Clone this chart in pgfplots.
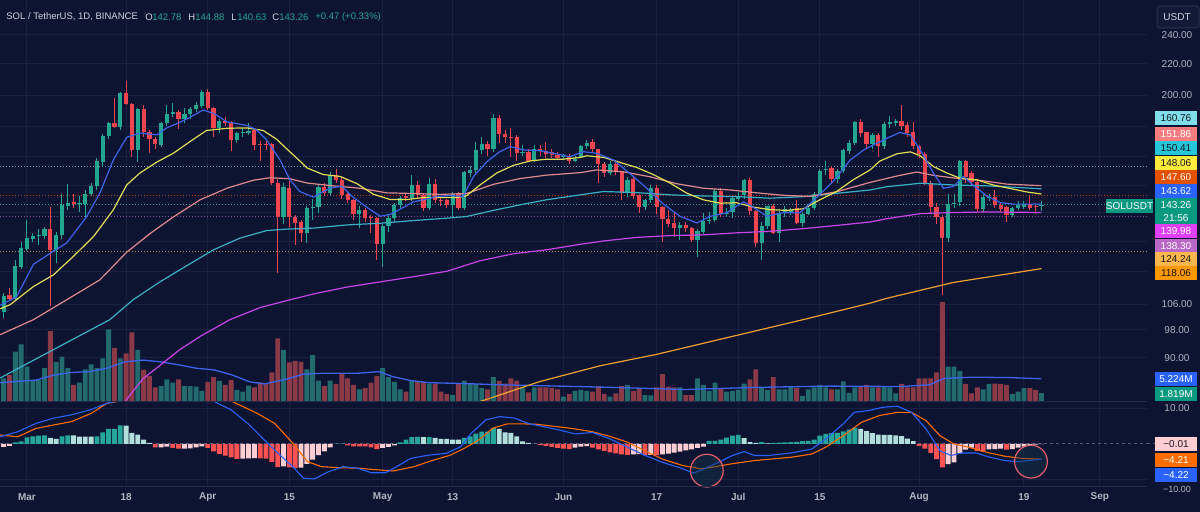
\documentclass[border=0pt]{standalone}
\usepackage{pgfplots}
\pgfplotsset{compat=1.18}
\usepackage{pgfplotstable}
\usepackage{fontspec}
\setmainfont{Liberation Sans}

\definecolor{bg}{HTML}{0C1432}
\definecolor{gridc}{HTML}{18213F}
\definecolor{sepc}{HTML}{222B4A}
\definecolor{lbl}{HTML}{B2B5BE}
\definecolor{hdr}{HTML}{D1D4DC}
\definecolor{dark}{HTML}{131722}
\definecolor{upc}{HTML}{22A68F}
\definecolor{dnc}{HTML}{F0444F}
\definecolor{volup}{HTML}{236A6D}
\definecolor{voldn}{HTML}{8A3946}
\definecolor{emablue}{HTML}{3D63EA}
\definecolor{emayel}{HTML}{E3DC55}
\definecolor{emasal}{HTML}{E08A8E}
\definecolor{emacy}{HTML}{3AAFC4}
\definecolor{emamag}{HTML}{C845E8}
\definecolor{emaor}{HTML}{F0A030}
\definecolor{hup}{HTML}{26A69A}
\definecolor{hupl}{HTML}{B2DFDB}
\definecolor{hdn}{HTML}{FF5252}
\definecolor{hdnl}{HTML}{FFCDD2}
\definecolor{macdc}{HTML}{2962FF}
\definecolor{sigc}{HTML}{FF6D00}
\definecolor{circ}{HTML}{E35D6A}
\definecolor{circf}{HTML}{16364C}
\definecolor{lab160}{HTML}{80DEEA}
\definecolor{lab151}{HTML}{F77C80}
\definecolor{lab150}{HTML}{26C6DA}
\definecolor{lab148}{HTML}{FFEB3B}
\definecolor{lab147}{HTML}{E65100}
\definecolor{lab143}{HTML}{2962FF}
\definecolor{labcur}{HTML}{089981}
\definecolor{lab139}{HTML}{E040FB}
\definecolor{lab138}{HTML}{BA68C8}
\definecolor{lab124}{HTML}{FFB74D}
\definecolor{lab118}{HTML}{FF9800}

\newcommand\fs{\fontsize{5}{6}\selectfont}
\newcommand\fh{\fontsize{4.75}{6}\selectfont}

% daily candles, day 0 = 1 March; volume in millions
\pgfplotstableread{
d o h l c v
-4 103.6 109.5 101.7 108.5 5.3
-3 109.0 111.4 107.0 107.5 6.1
-2 107.6 121.2 107.2 118.9 11.6
-1 118.8 128.0 118.0 125.6 13.3
0 125.4 136.9 124.5 129.4 8.1
1 129.0 131.5 128.0 130.2 4.7
2 130.2 133.0 127.0 130.8 4.9
3 130.5 134.0 129.0 133.2 7.7
4 133.2 142.4 105.3 125.0 16.4
5 125.0 132.0 120.0 130.8 9.2
6 130.8 148.3 129.0 143.2 10.4
7 142.8 152.6 141.0 144.2 7.7
8 144.5 148.0 142.0 143.5 3.8
9 143.5 147.0 140.0 144.2 4.3
10 143.5 149.9 138.1 148.0 7.4
11 148.0 153.0 147.0 151.8 8.6
12 151.6 165.3 150.0 163.6 7.7
13 163.3 177.5 161.0 176.6 10.0
14 176.6 184.5 175.0 183.5 16.8
15 183.5 198.0 180.7 181.6 12.5
16 181.6 202.0 180.0 201.4 10.0
17 201.4 208.8 194.0 194.5 11.2
18 194.5 195.0 165.8 169.3 16.1
19 169.3 192.5 163.4 191.7 12.0
20 191.7 194.0 176.3 179.0 7.3
21 179.0 180.0 167.6 175.0 5.9
22 175.0 176.0 170.0 172.3 3.2
23 172.0 184.0 171.0 183.5 3.5
24 183.5 194.0 182.0 189.0 5.1
25 189.0 195.0 187.0 190.0 4.3
26 190.0 191.0 180.3 185.8 5.1
27 185.8 192.2 183.9 189.0 3.5
28 188.8 193.0 186.0 191.5 3.5
29 191.5 195.8 190.0 194.0 3.4
30 193.6 203.0 192.0 201.8 2.4
31 201.8 203.5 191.0 192.1 4.5
32 192.0 193.0 176.3 180.7 5.6
33 180.7 186.0 178.0 184.6 4.7
34 184.6 187.0 182.0 183.5 3.8
35 183.5 185.0 168.5 174.5 4.9
36 174.5 179.0 173.0 178.0 2.6
37 178.0 181.0 176.0 178.9 2.2
38 178.0 183.7 177.0 179.4 3.6
39 180.0 181.0 169.3 172.0 3.2
40 172.5 174.0 163.7 172.0 4.4
41 172.3 174.0 169.0 171.8 4.1
42 172.2 173.0 152.0 153.0 6.7
43 153.0 155.0 116.5 138.1 14.7
44 138.1 153.0 135.0 151.2 12.0
45 151.0 154.0 134.0 138.1 9.1
46 138.1 139.0 126.8 135.8 9.4
47 136.2 137.0 128.1 131.5 9.2
48 131.5 143.0 127.5 141.8 7.4
49 141.8 146.0 137.0 142.4 10.8
50 142.4 152.0 139.8 151.2 4.8
51 151.2 153.0 147.0 148.6 3.5
52 148.6 158.4 147.0 156.8 4.8
53 156.8 160.0 153.0 154.6 4.0
54 154.6 156.0 146.0 147.6 6.3
55 148.0 149.0 144.0 145.2 5.3
56 145.2 146.0 137.0 139.4 3.8
57 139.4 143.0 133.5 141.1 2.7
58 141.1 142.0 136.0 137.6 3.0
59 138.0 139.0 131.5 137.5 4.3
60 137.6 138.0 121.2 127.4 5.9
61 127.4 135.0 118.8 134.2 7.7
62 134.2 139.0 132.0 137.6 5.6
63 137.6 144.0 136.0 143.2 4.5
64 143.2 147.0 142.0 146.2 2.7
65 147.0 148.0 145.0 146.2 2.2
66 146.2 156.8 145.0 152.3 4.7
67 152.3 154.0 146.0 147.6 4.5
68 147.6 148.0 140.5 142.0 4.5
69 142.0 155.3 141.0 152.6 4.1
70 152.6 155.0 144.0 145.6 4.0
71 145.6 147.0 143.0 145.2 2.2
72 145.3 146.0 142.0 143.3 1.6
73 143.3 149.0 138.1 148.1 1.4
74 148.1 149.0 141.0 141.8 4.1
75 141.8 159.0 141.0 158.4 4.8
76 158.0 161.0 156.0 159.3 4.1
77 159.3 173.5 158.0 169.3 4.0
78 169.3 176.0 167.0 172.3 3.0
79 172.3 174.0 166.0 169.6 2.7
80 169.6 189.0 168.0 186.4 5.6
81 186.4 188.5 173.0 177.7 4.7
82 177.7 180.0 173.0 176.3 4.1
83 176.3 180.7 165.8 176.0 5.3
84 176.0 177.0 163.7 167.7 4.8
85 167.5 172.0 166.0 168.2 3.2
86 168.2 170.0 163.0 163.7 2.0
87 163.7 172.0 163.0 169.6 3.2
88 169.6 172.0 166.0 168.5 3.2
89 168.5 173.5 165.0 167.0 3.2
90 168.0 170.0 165.0 166.9 3.0
91 166.9 168.0 164.0 165.2 2.7
92 165.7 167.0 164.0 166.0 1.0
93 166.4 167.0 162.3 163.7 1.6
94 163.7 166.0 163.0 164.6 2.4
95 165.8 172.0 165.0 171.2 2.6
96 171.2 174.5 170.0 172.9 2.4
97 173.5 175.0 168.0 169.6 2.2
98 169.6 170.0 153.0 162.4 3.5
99 162.4 163.0 156.0 157.8 1.6
100 157.8 163.5 157.0 162.4 1.0
101 162.4 163.0 157.0 158.6 1.8
102 158.6 159.0 145.5 148.5 3.5
103 148.5 156.0 146.6 154.6 3.8
104 154.9 156.0 146.0 147.3 2.4
105 147.6 148.0 139.8 142.3 3.0
106 142.3 146.0 141.0 145.5 1.4
107 145.5 152.0 144.0 150.9 1.3
108 150.9 152.0 139.4 142.4 3.2
109 142.4 143.0 128.1 137.2 6.3
110 137.2 141.1 134.0 135.3 3.4
111 135.6 140.0 130.0 133.5 3.2
112 133.5 136.0 128.8 134.9 3.2
113 134.9 136.0 132.0 133.5 1.4
114 133.5 134.0 128.0 128.8 1.4
115 128.8 133.0 122.4 132.4 5.3
116 132.1 139.8 131.0 136.4 3.8
117 136.5 140.0 135.0 136.9 2.4
118 136.9 150.5 136.0 149.6 4.3
119 149.6 151.0 138.0 139.5 3.0
120 139.5 142.0 138.0 139.9 2.2
121 140.2 147.0 137.6 146.4 2.4
122 145.9 149.0 145.0 147.1 2.6
123 147.6 155.0 146.0 154.3 4.1
124 154.3 155.5 139.0 140.5 5.1
125 140.5 141.0 126.0 127.7 7.4
126 127.7 136.0 121.2 134.2 3.0
127 134.2 143.0 133.0 142.6 2.6
128 142.6 143.5 131.0 131.5 5.6
129 131.5 140.5 128.1 139.8 2.7
130 139.8 143.0 138.0 141.4 2.7
131 140.0 142.0 139.0 141.0 3.4
132 141.8 145.5 135.0 135.6 3.0
133 135.6 140.0 134.0 139.5 1.2
134 139.4 143.0 139.0 141.8 2.7
135 141.8 149.0 141.0 148.1 3.2
136 147.3 160.0 147.0 159.0 3.8
137 159.3 163.7 157.0 160.0 3.2
138 160.4 161.0 153.0 154.9 2.7
139 154.9 160.0 153.0 159.0 2.7
140 159.0 170.0 158.0 169.0 4.6
141 168.5 174.5 167.0 172.9 1.9
142 172.9 185.0 172.0 184.3 3.2
143 184.3 186.0 176.0 178.0 3.4
144 178.5 179.0 170.0 172.3 3.8
145 172.3 178.0 170.0 177.4 3.2
146 177.4 178.0 165.8 171.2 3.2
147 171.2 184.0 170.0 183.0 3.5
148 183.0 187.6 181.0 184.3 3.2
149 183.5 186.0 182.0 184.6 1.8
150 184.6 194.0 180.0 181.9 4.0
151 182.4 184.0 176.0 178.0 3.2
152 178.5 184.3 170.0 171.2 3.2
153 171.2 172.0 165.0 167.2 5.3
154 167.2 168.0 152.0 153.0 5.3
155 153.0 154.0 139.8 142.4 5.3
156 142.4 144.0 135.0 137.9 6.7
157 137.9 139.0 109.1 129.4 23.3
158 129.4 148.3 128.0 143.5 8.1
159 143.5 148.0 141.8 144.2 8.1
160 144.5 164.0 143.0 163.5 7.1
161 163.5 164.0 153.0 156.0 4.0
162 157.8 159.0 152.0 153.8 1.8
163 153.8 155.0 140.0 141.4 3.2
164 141.4 148.3 140.0 146.6 2.7
165 146.2 148.3 145.0 146.9 4.0
166 146.6 149.9 142.0 143.2 4.1
167 143.2 144.0 140.0 141.7 4.0
168 142.4 143.0 136.2 139.0 3.8
169 139.0 142.5 138.0 141.8 1.6
170 141.8 145.0 141.0 143.2 2.2
171 142.5 145.0 141.5 143.8 3.0
172 143.8 147.7 141.0 141.8 3.0
173 142.8 143.5 139.4 142.4 2.6
174 142.78 144.88 140.63 143.26 1.819
}\ohlc

% moving averages of the close
\pgfplotstableread{
d p
-4.6 105.7
-1.8 108.3
1.1 119.6
4.5 124.4
6.8 127.6
10.2 138.1
12.5 148.5
14.8 164.2
17.1 175.9
19.4 178.2
22.3 177.2
24.0 181.1
26.2 184.0
28.5 187.9
30.2 191.1
32.0 189.2
34.3 184.4
37.7 182.4
39.4 179.9
41.1 174.5
43.4 164.2
45.1 154.6
46.8 149.2
49.1 146.7
52.0 150.8
54.0 151.6
55.9 146.7
58.3 142.2
60.6 138.4
62.3 139.2
64.6 142.2
66.3 144.6
68.0 145.5
70.3 147.0
72.6 147.4
74.8 147.0
76.6 156.2
78.9 163.4
81.1 168.4
82.9 171.0
85.1 169.3
88.0 168.9
90.9 167.2
93.1 165.8
95.4 168.4
97.7 167.6
100.6 164.2
103.4 157.6
106.3 150.7
109.1 143.7
112.0 138.4
114.9 135.6
117.2 138.4
120.0 139.9
122.9 144.6
124.6 142.2
126.9 138.4
129.7 139.9
132.6 139.9
135.5 146.7
138.3 153.9
141.2 164.2
143.5 169.3
144.6 171.0
147.5 175.4
149.7 178.5
151.5 177.2
153.2 169.3
155.5 157.6
157.2 150.7
158.9 151.5
160.6 156.2
162.3 152.1
164.6 147.2
166.9 144.3
169.2 143.6
171.5 143.6
174 143.62
}\maA

\pgfplotstableread{
d p
-4.6 104.5
-2.9 105.8
1.1 111.8
4.5 115.8
7.9 122.4
11.4 130.1
14.8 141.1
17.1 152.2
19.4 157.9
22.3 163.2
25.1 167.6
28.5 174.8
30.8 179.6
34.3 180.8
37.7 181.0
40.5 179.6
42.8 174.9
45.1 168.3
46.8 163.7
48.0 160.3
50.8 157.1
53.7 156.2
56.6 152.8
59.4 148.0
62.3 145.6
65.1 145.6
68.0 146.5
70.8 146.5
73.7 146.5
75.4 147.3
77.7 152.2
80.6 157.9
83.4 161.5
86.3 163.7
89.1 164.6
92.0 164.6
94.9 165.5
96.0 166.3
98.9 165.5
101.7 163.0
104.6 160.5
107.4 157.1
110.3 153.1
113.2 148.4
116.0 145.5
118.9 144.0
121.7 144.2
124.6 142.3
127.4 141.2
130.3 140.9
133.2 141.6
136.0 145.5
138.9 149.3
141.7 154.6
144.6 159.3
146.3 163.7
149.2 167.3
151.5 168.3
153.2 166.3
155.5 160.9
157.8 157.8
160.0 155.4
162.9 154.6
165.7 152.2
168.6 150.6
171.5 149.0
174 148.06
}\maB

\pgfplotstableread{
d p
-4.6 96.6
1.1 101.1
6.8 107.4
12.5 114.1
17.1 124.1
21.1 131.3
25.1 138.1
29.7 145.5
34.3 150.7
38.8 154.4
41.7 155.6
45.1 155.1
48.0 153.1
52.5 151.8
57.1 150.7
61.7 148.6
66.3 148.3
70.8 147.9
75.4 148.3
80.0 152.5
84.6 155.2
89.1 156.8
94.9 158.0
97.7 159.3
102.3 158.4
106.9 156.0
111.4 152.8
116.0 150.7
120.6 149.9
125.2 148.6
129.7 147.5
134.3 147.0
138.9 149.1
144.6 153.4
149.7 156.7
152.6 158.3
155.5 156.7
158.9 155.5
163.5 154.3
168.0 152.6
174 151.86
}\maC

\pgfplotstableread{
d p
-4.6 84.7
14.2 101.1
18.2 107.4
22.8 113.4
27.4 119.1
32.0 125.0
36.5 129.5
41.1 132.5
44.5 133.1
49.1 133.5
54.8 134.8
60.6 135.5
66.3 136.6
72.0 137.6
75.4 138.3
80.0 140.9
84.6 143.3
89.1 145.5
94.9 147.7
98.9 149.2
104.6 148.7
110.3 147.7
116.0 147.2
121.7 146.9
127.4 146.2
133.2 146.9
138.9 148.4
144.6 149.9
147.5 151.4
153.2 153.0
158.9 152.2
164.6 151.8
170.3 151.0
174 150.41
}\maD

\pgfplotstableread{
d p
16.0 77.5
19.9 84.5
26.2 92.3
29.7 96.1
34.8 101.1
40.0 104.9
44.5 107.1
49.1 109.3
54.8 111.6
60.6 113.4
66.3 115.2
72.0 117.1
77.7 120.9
83.4 123.5
89.1 125.0
94.9 127.1
98.9 128.4
104.6 129.8
110.3 130.5
116.0 130.8
121.7 131.6
127.4 132.2
133.2 133.3
138.9 134.6
144.6 136.0
147.5 137.4
153.2 139.5
158.9 140.0
164.6 140.2
170.3 140.1
174 139.98
}\maE

\pgfplotstableread{
d p
70.0 76.0
78.0 79.0
88.0 83.8
98.3 87.9
108.0 91.0
118.5 95.1
133.1 101.1
144.6 106.3
147.5 107.9
158.9 113.2
174 118.06
}\maF

% volume moving average (millions)
\pgfplotstableread{
d v
-4.6 4.3
1.5 4.9
4.6 6.1
7.6 6.7
10.7 6.9
13.7 7.7
16.8 9.2
19.9 9.6
22.9 9.2
26.0 8.5
29.0 7.7
32.1 7.3
35.2 6.1
38.2 4.5
40.7 4.0
44.4 5.1
47.4 6.3
50.5 6.5
56.6 6.5
60.3 6.9
62.8 5.7
65.8 4.8
68.9 4.3
75.0 4.1
81.1 3.8
88.0 3.6
100.4 3.2
112.8 2.7
125.1 3.2
137.5 3.5
149.9 3.4
154.8 3.8
157.3 5.3
162.2 5.6
168.4 5.5
174 5.224
}\volma

% MACD line
\pgfplotstableread{
d m
-4.6 2.0
-1.6 3.4
1.5 5.7
4.6 7.2
7.6 8.1
10.7 9.4
13.7 11.3
16.2 12.2
20.0 13.5
26.0 13.8
30.0 12.8
32.1 11.8
35.0 9.5
38.0 5.5
40.7 1.1
43.0 -2.5
45.6 -6.3
47.4 -9.5
49.3 -9.7
51.7 -7.7
54.2 -6.3
56.6 -6.7
59.1 -8.0
61.5 -8.0
63.4 -6.3
65.8 -4.0
68.9 -3.1
71.9 -2.6
74.4 -0.74
76.2 2.96
78.7 6.7
81.1 7.6
83.6 7.2
86.0 5.7
88.0 5.0
91.0 4.0
94.0 2.8
97.0 3.2
100.0 1.4
103.0 -0.9
106.0 -3.2
109.0 -5.1
112.5 -6.9
114.3 -8.1
116.2 -6.9
118.6 -5.1
121.0 -3.2
123.0 -2.1
124.8 -3.2
127.2 -3.2
131.0 -2.5
134.6 -1.4
137.0 1.4
140.0 5.6
141.9 8.8
144.4 9.3
146.8 10.2
149.3 10.5
151.7 8.8
154.2 4.2
156.6 -1.9
158.5 -3.2
160.3 -2.5
162.8 -2.5
165.2 -3.7
167.7 -4.6
170.1 -4.9
172.5 -4.5
174 -4.22
}\macdline

% signal line
\pgfplotstableread{
d s
-4.6 2.5
-1.6 2.0
1.5 4.3
4.6 5.3
7.6 6.2
11.0 8.5
13.7 11.3
18.0 12.5
25.0 13.3
32.0 12.6
35.2 11.8
39.5 8.5
42.5 5.7
45.6 0.2
48.1 -4.9
50.5 -6.3
53.6 -6.6
56.6 -6.7
60.3 -7.2
62.8 -7.5
66.4 -6.3
68.9 -4.9
72.6 -3.1
75.0 -1.2
77.5 1.1
79.9 4.4
82.4 5.6
84.8 5.6
87.3 5.5
91.0 4.8
94.0 4.2
97.0 3.4
100.0 2.1
103.0 0.5
106.0 -1.9
109.0 -4.2
112.5 -6.0
115.6 -6.9
117.4 -6.5
120.5 -5.6
124.8 -4.6
131.0 -3.7
134.6 -2.8
137.0 -0.9
140.0 2.3
143.1 6.0
146.2 7.9
149.3 8.8
151.7 8.8
154.2 6.5
156.6 2.3
159.0 0.0
161.5 -0.9
164.6 -2.3
167.7 -3.4
170.7 -4.0
174 -4.21
}\signal

% histogram; k: 0 rising above zero, 1 falling above zero, 2 falling below zero, 3 rising below zero
\pgfplotstableread{
d hv k
-4 -0.8 3
-3 -0.5 3
-2 0.46 0
-1 0.74 0
0 1.85 0
1 2.13 0
2 2.3 0
3 2.4 0
4 1.67 1
5 1.39 1
6 2.13 0
7 2.4 0
8 2.4 1
9 2.04 1
10 2.04 1
11 2.04 1
12 2.13 0
13 3.24 0
14 4.17 0
15 4.2 0
16 5.19 0
17 5.1 1
18 3.06 1
19 2.6 1
20 1.2 1
21 0.3 1
22 -0.93 2
23 -0.93 3
24 -0.74 3
25 -1.1 2
26 -1.3 2
27 -1.3 3
28 -1.2 3
29 -0.93 3
30 -0.65 3
31 -1.1 2
32 -2.04 2
33 -2.78 2
34 -3.24 2
35 -3.7 2
36 -4.17 2
37 -4.1 3
38 -4.0 3
39 -3.9 3
40 -4.0 2
41 -4.1 2
42 -5.0 2
43 -6.4 2
44 -6.2 3
45 -6.5 2
46 -6.7 2
47 -6.6 3
48 -5.5 3
49 -4.35 3
50 -3.06 3
51 -2.04 3
52 -0.93 3
53 0.1 0
54 0.1 0
55 -0.37 2
56 -0.65 2
57 -0.65 2
58 -0.65 2
59 -0.93 2
60 -1.4 2
61 -1.1 3
62 -0.83 3
63 -0.37 3
64 0.46 0
65 1.2 0
66 1.94 0
67 1.95 0
68 1.9 1
69 1.94 0
70 1.67 1
71 1.39 1
72 1.39 1
73 1.2 1
74 1.2 1
75 1.67 0
76 2.13 0
77 2.87 0
78 3.43 0
79 3.45 0
80 4.44 0
81 4.17 1
82 3.24 1
83 3.06 1
84 2.13 1
85 0.74 1
86 0.28 1
87 0.05 1
88 -0.3 2
89 -0.5 2
90 -0.8 2
91 -1.1 2
92 -1.3 2
93 -1.4 2
94 -1.0 3
95 -0.7 3
96 -0.6 3
97 -1.0 2
98 -1.5 2
99 -1.9 2
100 -2.3 2
101 -2.6 2
102 -2.9 2
103 -3.0 2
104 -2.9 3
105 -2.8 3
106 -3.1 2
107 -3.0 3
108 -3.1 2
109 -2.9 3
110 -2.7 3
111 -2.4 3
112 -2.1 3
113 -1.8 3
114 -1.5 3
115 -1.1 3
116 -0.7 3
117 0.9 0
118 0.9 0
119 1.2 0
120 1.8 0
121 2.3 0
122 2.5 0
123 1.6 1
124 0.5 1
125 0.3 1
126 0.5 0
127 0.2 1
128 0.3 0
129 0.4 0
130 0.45 0
131 0.5 0
132 0.6 0
133 0.8 0
134 0.9 0
135 1.2 0
136 2.3 0
137 2.8 0
138 3.0 0
139 3.1 0
140 3.5 0
141 4.0 0
142 4.5 0
143 4.2 1
144 3.6 1
145 3.0 1
146 2.6 1
147 2.5 1
148 2.5 1
149 2.4 1
150 2.2 1
151 1.5 1
152 0.8 1
153 -0.5 2
154 -1.3 2
155 -2.5 2
156 -4.2 2
157 -6.5 2
158 -5.6 3
159 -5.1 3
160 -2.6 3
161 -1.6 3
162 -1.0 3
163 -1.9 2
164 -2.1 2
165 -1.5 3
166 -1.4 3
167 -1.3 3
168 -1.6 2
169 -1.4 3
170 -1.0 3
171 -0.7 3
172 -0.5 3
173 -0.2 3
174 -0.01 3
}\hist

\pgfplotsset{
  pane/.style={scale only axis, anchor=south west, width=573.5pt,
    xmin=-4.63, xmax=192.1},
  dategrid/.style={xtick={0,17,31,45,61,73,92,108,122,136,153,171,184}},
  rising/.style={restrict expr to domain={\thisrow{c}-\thisrow{o}}{0:1000}},
  falling/.style={restrict expr to domain={\thisrow{c}-\thisrow{o}}{-1000:-0.0001}},
}

\begin{document}
\begin{tikzpicture}
\path[use as bounding box, fill=bg] (0,0) rectangle (600pt,256pt);

% price pane grid and scale
\begin{axis}[pane, at={(0pt,55.5pt)}, height=200.5pt,
  ymode=log, ymin=79.0, ymax=266.9,
  axis line style={draw=none}, tick style={draw=none},
  dategrid, xticklabels={},
  ytick={90,98,106,200,220,240},
  yticklabels={90.00,98.00,106.00,200.00,220.00,240.00},
  extra y ticks={117,128,140,152,166,182}, extra y tick labels={},
  extra y tick style={grid=major},
  yticklabel pos=right,
  yticklabel style={anchor=center, xshift=15pt, text=lbl, font=\fs},
  grid=major, major grid style={draw=gridc, line width=0.5pt}]
\addplot[draw=none] coordinates {(0,100)};
\end{axis}

% volume
\begin{axis}[pane, at={(0pt,55.5pt)}, height=200.5pt,
  ymin=0, ymax=94.2, hide axis]
\addplot[ybar, bar width=0.84, fill=volup, draw=none, rising] table[x=d,y=v]{\ohlc};
\addplot[ybar, bar width=0.84, fill=voldn, draw=none, falling] table[x=d,y=v]{\ohlc};
\addplot[emablue, line width=0.65pt] table[x=d,y=v]{\volma};
\end{axis}

% candles and averages
\begin{axis}[pane, at={(0pt,55.5pt)}, height=200.5pt,
  ymode=log, ymin=79.0, ymax=266.9, hide axis]
\addplot[lab160, opacity=0.7, line width=0.5pt, dash pattern=on 0.5pt off 1pt] coordinates {(-4.63,160.76) (192.1,160.76)};
\addplot[lab147, opacity=0.8, line width=0.5pt, dash pattern=on 0.5pt off 1pt] coordinates {(-4.63,147.60) (192.1,147.60)};
\addplot[upc, line width=0.5pt, dash pattern=on 0.5pt off 1pt] coordinates {(-4.63,143.26) (192.1,143.26)};
\addplot[lab138, opacity=0.7, line width=0.5pt, dash pattern=on 0.5pt off 1pt] coordinates {(-4.63,138.30) (192.1,138.30)};
\addplot[lab124, opacity=0.7, line width=0.5pt, dash pattern=on 0.5pt off 1pt] coordinates {(-4.63,124.24) (192.1,124.24)};

\addplot[draw=none, mark=none, rising, error bars/.cd, y dir=plus, y explicit, error mark=none,
  error bar style={draw=upc, line width=0.5pt}]
  table[x=d, y=l, y error expr=\thisrow{h}-\thisrow{l}]{\ohlc};
\addplot[draw=none, mark=none, falling, error bars/.cd, y dir=plus, y explicit, error mark=none,
  error bar style={draw=dnc, line width=0.5pt}]
  table[x=d, y=l, y error expr=\thisrow{h}-\thisrow{l}]{\ohlc};
\addplot[draw=none, mark=none, rising, error bars/.cd, y dir=plus, y explicit, error mark=none,
  error bar style={draw=upc, line width=2.1pt}]
  table[x=d, y=o, y error expr={max(\thisrow{c}-\thisrow{o},0.3)}]{\ohlc};
\addplot[draw=none, mark=none, falling, error bars/.cd, y dir=plus, y explicit, error mark=none,
  error bar style={draw=dnc, line width=2.1pt}]
  table[x=d, y=c, y error expr={max(\thisrow{o}-\thisrow{c},0.3)}]{\ohlc};

\addplot[emaor, line width=0.6pt] table[x=d,y=p]{\maF};
\addplot[emamag, line width=0.6pt] table[x=d,y=p]{\maE};
\addplot[emacy, line width=0.6pt] table[x=d,y=p]{\maD};
\addplot[emasal, line width=0.6pt] table[x=d,y=p]{\maC};
\addplot[emayel, line width=0.6pt] table[x=d,y=p]{\maB};
\addplot[emablue, line width=0.6pt] table[x=d,y=p]{\maA};
\end{axis}

% MACD pane
\begin{axis}[pane, at={(0pt,13pt)}, height=42pt,
  ymin=-11.67, ymax=11.67,
  axis line style={draw=none}, tick style={draw=none},
  dategrid,
  xticklabels={Mar,18,Apr,15,May,13,Jun,17,Jul,15,Aug,19,Sep},
  xticklabel style={anchor=center, yshift=-5.5pt, text=lbl, font=\fs\bfseries},
  ytick={-10,10}, yticklabels={,10.00},
  yticklabel pos=right,
  yticklabel style={anchor=center, xshift=15pt, text=lbl, font=\fs},
  grid=major, major grid style={draw=gridc, line width=0.5pt},
  clip mode=individual]
\addplot[draw={rgb,255:red,80;green,88;blue,122}, line width=0.5pt, dash pattern=on 1.5pt off 1.5pt] coordinates {(-4.63,0) (192.1,0)};
\addplot[ybar, bar width=0.84, fill=hup, draw=none, restrict expr to domain={\thisrow{k}}{0:0}] table[x=d,y=hv]{\hist};
\addplot[ybar, bar width=0.84, fill=hupl, draw=none, restrict expr to domain={\thisrow{k}}{1:1}] table[x=d,y=hv]{\hist};
\addplot[ybar, bar width=0.84, fill=hdn, draw=none, restrict expr to domain={\thisrow{k}}{2:2}] table[x=d,y=hv]{\hist};
\addplot[ybar, bar width=0.84, fill=hdnl, draw=none, restrict expr to domain={\thisrow{k}}{3:3}] table[x=d,y=hv]{\hist};
\addplot[sigc, line width=0.55pt] table[x=d,y=s]{\signal};
\addplot[macdc, line width=0.55pt] table[x=d,y=m]{\macdline};
\addplot[only marks, mark=*, mark size=8.2pt,
  mark options={draw=circ, line width=0.6pt, fill=circf, fill opacity=0.45}]
  coordinates {(116.6,-7.4) (172.2,-4.9)};
\end{axis}

\begin{scope}[shift={(0pt,256pt)}, x=0.5pt, y=-0.5pt,
  lab/.style={minimum width=21pt, minimum height=7pt, inner sep=0pt, font=\fs}]
\draw[sepc, line width=0.5pt] (0,401.5) -- (1147,401.5);
\draw[sepc, line width=0.5pt] (0,486.5) -- (1147,486.5);
\draw[draw={rgb,255:red,80;green,88;blue,122}, line width=0.5pt, dash pattern=on 1.5pt off 1.5pt] (1147,444) -- (1155,444);

% header
\node[anchor=west, inner sep=0, font=\fh, text=hdr] at (6,17) {SOL / TetherUS, 1D, BINANCE};
\node[anchor=west, inner sep=0, font=\fh, text=hdr] at (145,17) {O};
\node[anchor=west, inner sep=0, font=\fh, text=upc] at (152,17) {142.78};
\node[anchor=west, inner sep=0, font=\fh, text=hdr] at (188,17) {H};
\node[anchor=west, inner sep=0, font=\fh, text=upc] at (195,17) {144.88};
\node[anchor=west, inner sep=0, font=\fh, text=hdr] at (231,17) {L};
\node[anchor=west, inner sep=0, font=\fh, text=upc] at (237,17) {140.63};
\node[anchor=west, inner sep=0, font=\fh, text=hdr] at (272,17) {C};
\node[anchor=west, inner sep=0, font=\fh, text=upc] at (279,17) {143.26};
\node[anchor=west, inner sep=0, font=\fh, text=upc] at (315,17) {+0.47 (+0.33\%)};

% currency button
\draw[draw={rgb,255:red,42;green,49;blue,80}, fill={rgb,255:red,18;green,26;blue,56}, rounded corners=1.5pt, line width=0.5pt] (1157,6) rectangle (1199,28);
\node[font=\fs, text=hdr] at (1177,17) {USDT};

% last-value labels
\node[lab, fill=lab160, text=dark] at (1176,118) {160.76};
\node[lab, fill=lab151, text=white] at (1176,134) {151.86};
\node[lab, fill=lab150, text=dark] at (1176,148) {150.41};
\node[lab, fill=lab148, text=dark] at (1176,163) {148.06};
\node[lab, fill=lab147, text=white] at (1176,177) {147.60};
\node[lab, fill=lab143, text=white] at (1176,191) {143.62};
\node[lab, fill=labcur, text=white, minimum height=14pt, align=center,
  font=\fontsize{5}{6.5}\selectfont] at (1176,212) {143.26\\21:56};
\node[minimum width=23.5pt, minimum height=7pt, inner sep=0pt, font=\fs,
  fill=labcur, text=white] at (1129.5,206) {SOLUSDT};
\node[lab, fill=lab139, text=white] at (1176,231) {139.98};
\node[lab, fill=lab138, text=white] at (1176,246) {138.30};
\node[lab, fill=lab124, text=dark] at (1176,259) {124.24};
\node[lab, fill=lab118, text=dark] at (1176,273) {118.06};
\node[lab, fill=lab143, text=white] at (1176,379) {5.224M};
\node[lab, fill=labcur, text=white] at (1176,394) {1.819M};
\node[lab, fill=hdnl, text=dark] at (1176,444) {−0.01};
\node[lab, fill=sigc, text=white] at (1176,460) {−4.21};
\node[lab, fill=macdc, text=white] at (1176,475) {−4.22};
\node[font=\fontsize{4.5}{5}\selectfont, text=lbl, inner sep=0pt] at (1177,489) {−10.00};
\end{scope}
\end{tikzpicture}
\end{document}
